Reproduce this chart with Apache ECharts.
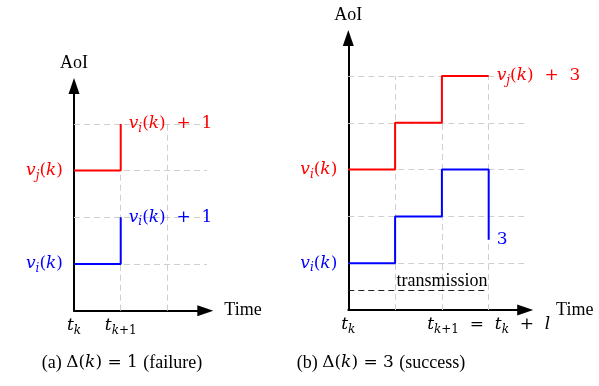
<!DOCTYPE html>
<html>
<head>
<meta charset="utf-8">
<script src="https://cdn.jsdelivr.net/npm/echarts@6/dist/echarts.min.js"></script>
<style>
html, body { margin: 0; padding: 0; background: #fff; }
#main { width: 599px; height: 386px; }
</style>
</head>
<body>
<div id="main"></div>
<script>
// (a) failure panel
var leftRed = [[0, 3], [1, 3], [1, 4]];
var leftBlue = [[0, 1], [1, 1], [1, 2]];
var leftRows = [1, 2, 3, 4];
var leftCols = [1, 2];
var leftRowEnd = 2.9;
var leftColTop = 4;
var leftXTicks = [0, 1];
var leftXLabels = ['{mk|t}{sk|k}', '{mk|t}{sk|k}{tk|+1}'];
var leftYTicks = [1, 3];
var leftYLabels = ['{mb|v}{sb|i}{nb|(}{mb|k}{nb|)}', '{mr|v}{sr|j}{nr|(}{mr|k}{nr|)}'];
var leftRedEnd = '{mr|v}{sr|i}{nr|(}{mr|k}{nr|)  +  1}';
var leftBlueEnd = '{mb|v}{sb|i}{nb|(}{mb|k}{nb|)  +  1}';

// (b) success panel
var rightRed = [[0, 3], [1, 3], [1, 4], [2, 4], [2, 5], [3, 5]];
var rightBlue = [[0, 1], [1, 1], [1, 2], [2, 2], [2, 3], [3, 3], [3, 1.5]];
var rightRows = [1, 2, 3, 4, 5];
var rightCols = [1, 2, 3];
var rightRowEnd = 3.9;
var rightColTop = 5;
var rightXTicks = [0, 3];
var rightXLabels = ['{mk|t}{sk|k}', '{mk|t}{sk|k}{tk|+1}{nk|  =  }{mk|t}{sk|k}{nk|  +  }{mk|l}'];
var rightYTicks = [1, 3];
var rightYLabels = ['{mb|v}{sb|i}{nb|(}{mb|k}{nb|)}', '{mr|v}{sr|i}{nr|(}{mr|k}{nr|)}'];
var rightRedEnd = '{mr|v}{sr|j}{nr|(}{mr|k}{nr|)  +  3}';
var rightBlueEnd = '{nb|3}';
var transmission = [[0, 0.43], [2.95, 0.43]];
var transmissionText = [2, 0.43];

var captions = [
    '{c|(a) }{n|Δ(}{m|k}{n|) = 1 }{c|(failure)}',
    '{c|(b) }{n|Δ(}{m|k}{n|) = 3 }{c|(success)}'
];

var SERIF = 'Liberation Serif';
var MATH = 'DejaVu Serif';

function mathRich() {
    var rich = {};
    var colors = { r: '#ff0000', b: '#0000ff', k: '#000000' };
    for (var key in colors) {
        var c = colors[key];
        rich['m' + key] = { fontFamily: MATH, fontStyle: 'italic', fontSize: 17, color: c, lineHeight: 22, verticalAlign: 'middle' };
        rich['n' + key] = { fontFamily: MATH, fontSize: 17, color: c, lineHeight: 22, verticalAlign: 'middle' };
        rich['s' + key] = { fontFamily: MATH, fontStyle: 'italic', fontSize: 12, color: c, lineHeight: 10, verticalAlign: 'bottom' };
        rich['t' + key] = { fontFamily: MATH, fontSize: 12, color: c, lineHeight: 10, verticalAlign: 'bottom' };
    }
    return rich;
}

function pick(ticks, labels) {
    return function (v) {
        var i = ticks.indexOf(v);
        return i < 0 ? '' : labels[i];
    };
}

function gridLines(rows, cols, rowEnd, colTop) {
    var out = [];
    rows.forEach(function (r) { out.push({ coords: [[0, r], [rowEnd, r]] }); });
    cols.forEach(function (c) { out.push({ coords: [[c, 0], [c, colTop]] }); });
    return out;
}

function xAxisOf(idx, max, ticks, labels, gap) {
    return {
        gridIndex: idx, type: 'value', min: 0, max: max, interval: 1,
        name: 'Time', nameLocation: 'end', nameGap: gap,
        nameTextStyle: { fontFamily: SERIF, fontSize: 18, color: '#000', align: 'left', verticalAlign: 'middle' },
        axisLine: { show: true, onZero: false, symbol: ['none', 'triangle'], symbolSize: [11, 16], lineStyle: { color: '#000', width: 2 } },
        axisTick: { show: false },
        splitLine: { show: false },
        axisLabel: { margin: 4, formatter: pick(ticks, labels), rich: mathRich(), showMinLabel: true, showMaxLabel: true }
    };
}

function yAxisOf(idx, max, ticks, labels) {
    return {
        gridIndex: idx, type: 'value', min: 0, max: max, interval: 1,
        name: 'AoI', nameLocation: 'end', nameGap: 14,
        nameTextStyle: { fontFamily: SERIF, fontSize: 18, color: '#000' },
        axisLine: { show: true, onZero: false, symbol: ['none', 'triangle'], symbolSize: [11, 16], lineStyle: { color: '#000', width: 2 } },
        axisTick: { show: false },
        splitLine: { show: false },
        axisLabel: { margin: 11, formatter: pick(ticks, labels), rich: mathRich() }
    };
}

function step(idx, data, color, endText) {
    return {
        type: 'line', xAxisIndex: idx, yAxisIndex: idx, data: data,
        showSymbol: false, symbol: 'none', z: 5,
        lineStyle: { color: color, width: 2 },
        endLabel: { show: true, distance: 8, formatter: function () { return endText; }, rich: mathRich() }
    };
}

function grey(idx, data) {
    return {
        type: 'lines', coordinateSystem: 'cartesian2d', xAxisIndex: idx, yAxisIndex: idx,
        data: data, silent: true, z: 1,
        lineStyle: { color: '#cfcfcf', width: 1, type: [6, 4], opacity: 1 }
    };
}

var myChart = echarts.init(document.getElementById('main'));
var option = {
    animation: false,
    backgroundColor: '#fff',
    grid: [
        { left: 74, top: 86.1, width: 131.3, height: 224.6, outerBoundsMode: 'none' },
        { left: 348.3, top: 38.1, width: 176.9, height: 271.9, outerBoundsMode: 'none' }
    ],
    xAxis: [
        xAxisOf(0, 2.81, leftXTicks, leftXLabels, 19),
        xAxisOf(1, 3.78, rightXTicks, rightXLabels, 20)
    ],
    yAxis: [
        yAxisOf(0, 4.81, leftYTicks, leftYLabels),
        yAxisOf(1, 5.81, rightYTicks, rightYLabels)
    ],
    series: [
        grey(0, gridLines(leftRows, leftCols, leftRowEnd, leftColTop)),
        grey(1, gridLines(rightRows, rightCols, rightRowEnd, rightColTop)),
        step(0, leftRed, '#ff0000', leftRedEnd),
        step(0, leftBlue, '#0000ff', leftBlueEnd),
        step(1, rightRed, '#ff0000', rightRedEnd),
        step(1, rightBlue, '#0000ff', rightBlueEnd),
        {
            type: 'lines', coordinateSystem: 'cartesian2d', xAxisIndex: 1, yAxisIndex: 1,
            data: [{ coords: transmission }], silent: true, z: 2,
            lineStyle: { color: '#222', width: 1.2, type: [6, 4], opacity: 1 }
        },
        {
            type: 'scatter', xAxisIndex: 1, yAxisIndex: 1, data: [transmissionText],
            symbolSize: 0, itemStyle: { color: '#000' }, silent: true, z: 6,
            label: { show: true, position: 'top', distance: 0, formatter: 'transmission', fontFamily: SERIF, fontSize: 18, color: '#000', opacity: 1 }
        }
    ],
    graphic: [
        { type: 'text', x: 122, y: 363, style: { text: captions[0], align: 'center', verticalAlign: 'middle', rich: {
            c: { fontFamily: SERIF, fontSize: 18, color: '#000' },
            n: { fontFamily: MATH, fontSize: 17, color: '#000' },
            m: { fontFamily: MATH, fontSize: 17, fontStyle: 'italic', color: '#000' } } } },
        { type: 'text', x: 381, y: 363, style: { text: captions[1], align: 'center', verticalAlign: 'middle', rich: {
            c: { fontFamily: SERIF, fontSize: 18, color: '#000' },
            n: { fontFamily: MATH, fontSize: 17, color: '#000' },
            m: { fontFamily: MATH, fontSize: 17, fontStyle: 'italic', color: '#000' } } } }
    ]
};
myChart.setOption(option);
</script>
</body>
</html>
